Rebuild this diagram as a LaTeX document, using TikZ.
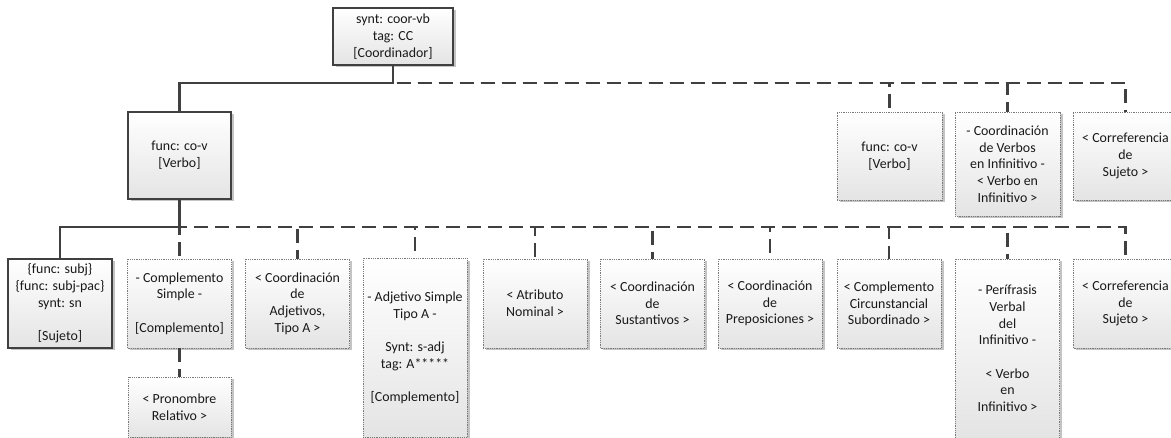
\documentclass[tikz,border=0pt]{standalone}
\usepackage{fontspec}
\setmainfont{Carlito}
\usetikzlibrary{shadows}
\definecolor{linegray}{HTML}{404040}
\definecolor{framegray}{HTML}{7A7A7A}
\definecolor{shadegray}{HTML}{E4E4E4}
\definecolor{shadowgray}{HTML}{C4C4C4}
\tikzset{
  box/.style={rectangle, align=center, inner sep=1pt,
    font=\fontsize{13.9pt}{16.7pt}\selectfont, text=black!90,
    top color=white, bottom color=shadegray,
    drop shadow={shadow xshift=2.5pt, shadow yshift=-2.5pt, fill=shadowgray, opacity=1}},
  solidbox/.style={box, draw=linegray, line width=1.2pt},
  dotbox/.style={box, draw=framegray, line width=0.8pt, dash pattern=on 0.9pt off 0.9pt},
  small/.style={minimum width=104pt, minimum height=89pt},
  tall/.style={minimum width=104pt, minimum height=179pt},
  solidlink/.style={draw=linegray, line width=2.2pt},
  dashlink/.style={draw=linegray, line width=2.2pt, dash pattern=on 14pt off 7pt},
}
\begin{document}
\begin{tikzpicture}[x=1pt,y=-1pt]
\clip (0,0) rectangle (1171,438);
\fill[white] (0,0) rectangle (1171,438);

% root and its coordinated verb
\node[solidbox, minimum width=120pt, minimum height=57pt] (root) at (393,36.5)
  {synt: coor-vb\\tag: CC\\{[Coordinador]}};
\node[solidbox, minimum width=103pt, minimum height=87pt] (cov) at (179.5,155.5)
  {func: co-v\\{[Verbo]}};

% optional children of the coordinator
\node[dotbox, minimum width=105pt, minimum height=88pt] (r1) at (889.5,156)
  {func: co-v\\{[Verbo]}};
\node[dotbox, minimum width=105pt, minimum height=104pt] (r2) at (1007.5,164)
  {- Coordinación\\de Verbos\\en Infinitivo -\\< Verbo en\\Infinitivo >};
\node[dotbox, minimum width=105pt, minimum height=88pt] (r3) at (1125.5,156)
  {< Correferencia\\de\\Sujeto >};

% dependents of the verb
\node[solidbox, small] (b1) at (60,303.5)
  {\{func: subj\}\\\{func: subj-pac\}\\synt: sn\\[\baselineskip]{[Sujeto]}};
\node[dotbox, small] (b2) at (179.5,303.5)
  {- Complemento\\Simple -\\[\baselineskip]{[Complemento]}};
\node[dotbox, small] (b3) at (297.5,303.5)
  {< Coordinación\\de\\Adjetivos,\\Tipo A >};
\node[dotbox, tall] (b4) at (415,348)
  {- Adjetivo Simple\\Tipo A -\\[\baselineskip]Synt: s-adj\\tag: A*****\\[\baselineskip]{[Complemento]}};
\node[dotbox, small] (b5) at (535,303.5)
  {< Atributo\\Nominal >};
\node[dotbox, small] (b6) at (652.5,303.5)
  {< Coordinación\\de\\Sustantivos >};
\node[dotbox, small] (b7) at (770,303.5)
  {< Coordinación\\de\\Preposiciones >};
\node[dotbox, small] (b8) at (889,303.5)
  {< Complemento\\Circunstancial\\Subordinado >};
\node[dotbox, tall] (b9) at (1007.5,348.5)
  {- Perífrasis\\Verbal\\del\\Infinitivo -\\[\baselineskip]< Verbo\\en\\Infinitivo >};
\node[dotbox, small] (b10) at (1125.5,303.5)
  {< Correferencia\\de\\Sujeto >};
\node[dotbox, minimum width=103pt, minimum height=60pt] (pron) at (179.5,407)
  {< Pronombre\\Relativo >};

% bus points
\coordinate (bus1) at (393,83);
\coordinate (bus2) at (179.5,227);

% optional links (dashed)
\foreach \c in {r1,r2,r3}
  \draw[dashlink] (root.south) -- (bus1) -| (\c.north);
\foreach \c in {b2,b3,b4,b5,b6,b7,b8,b9,b10}
  \draw[dashlink] (cov.south) -- (bus2) -| (\c.north);
\draw[dashlink] (b2.south) -- (pron.north);

% obligatory links (solid)
\draw[solidlink] (root.south) -- (bus1) -| (cov.north);
\draw[solidlink] (cov.south) -- (bus2) -| (b1.north);
\end{tikzpicture}
\end{document}
